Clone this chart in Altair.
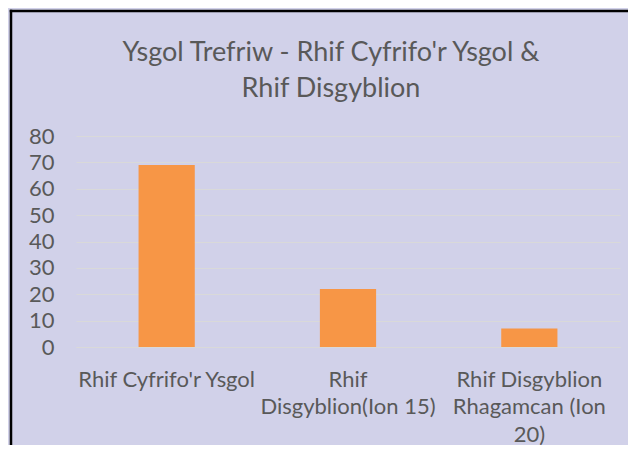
import altair as alt
import pandas as pd

categories = [
    "Rhif Cyfrifo'r Ysgol",
    "Rhif\nDisgyblion(Ion 15)",
    "Rhif Disgyblion\nRhagamcan (Ion\n20)",
]
values = [69, 22, 7]
y_ticks = [0, 10, 20, 30, 40, 50, 60, 70, 80]
title_lines = ["Ysgol Trefriw - Rhif Cyfrifo'r Ysgol &", "Rhif Disgyblion"]

df = pd.DataFrame({"cat": categories, "val": values})
one = pd.DataFrame({"a": [0]})

FONT = "Lato"
TXT = "#595959"
BG = "#d1d1e9"

# decorative frame (left and top edges only): white margin then black border
edge_left = alt.Chart(one).mark_rule(color="white", strokeWidth=8).encode(
    x=alt.value(-72), y=alt.value(-140), y2=alt.value(400)
)
edge_top = alt.Chart(one).mark_rule(color="white", strokeWidth=8).encode(
    y=alt.value(-132), x=alt.value(-80), x2=alt.value(560)
)
frame_left = alt.Chart(one).mark_rule(color="black", strokeWidth=2.5).encode(
    x=alt.value(-65), y=alt.value(-126.25), y2=alt.value(400)
)
frame_top = alt.Chart(one).mark_rule(color="black", strokeWidth=2.5).encode(
    y=alt.value(-125), x=alt.value(-66.25), x2=alt.value(560)
)

bars = alt.Chart(df).mark_bar(color="#f79646").encode(
    x=alt.X(
        "cat:N",
        sort=categories,
        scale=alt.Scale(paddingInner=0.69, paddingOuter=0.345),
        axis=alt.Axis(
            title=None,
            labelAngle=0,
            labelExpr="split(datum.label, '\\n')",
            labelFont=FONT,
            labelFontSize=22,
            labelColor=TXT,
            labelLineHeight=27.5,
            labelPadding=22,
            labelBaseline="top",
            ticks=False,
            domainColor="#d9d9d9",
            labelLimit=300,
        ),
    ),
    y=alt.Y(
        "val:Q",
        scale=alt.Scale(domain=[0, 80], nice=False),
        axis=alt.Axis(
            title=None,
            values=y_ticks,
            labelFont=FONT,
            labelFontSize=22,
            labelColor=TXT,
            labelPadding=22,
            ticks=False,
            domain=False,
            gridColor="#d9d9d9",
            gridWidth=1,
        ),
    ),
)

chart = alt.layer(edge_left, edge_top, frame_left, frame_top, bars).properties(
    width=544,
    height=211,
    background=BG,
    autosize=alt.AutoSizeParams(type="none"),
    padding={"left": 68, "top": 128, "right": 8, "bottom": 98},
    title=alt.TitleParams(
        text=title_lines,
        font=FONT,
        fontSize=27,
        fontWeight="normal",
        color=TXT,
        anchor="middle",
        lineHeight=36,
        offset=-111,
        dx=-17,
    ),
).configure_view(stroke=None)

chart.save("out.html", embed_options={"renderer": "svg", "actions": False})
